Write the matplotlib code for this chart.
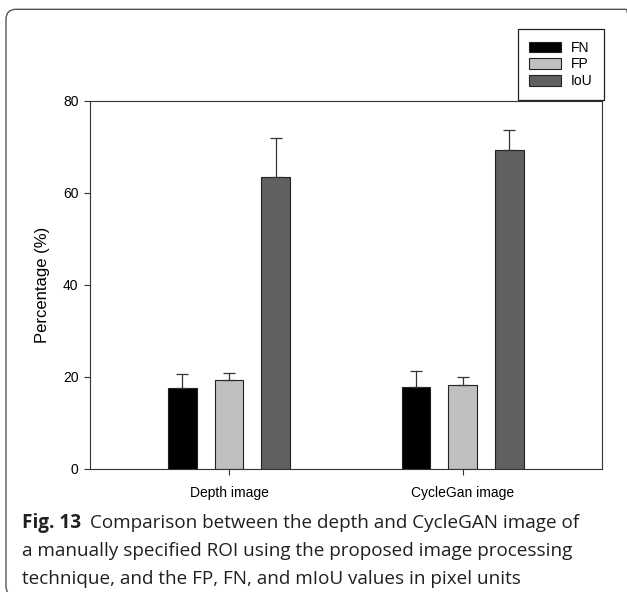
import numpy as np
import matplotlib
matplotlib.use('Agg')
import matplotlib.pyplot as plt
from matplotlib.patches import FancyBboxPatch, Patch
from matplotlib.transforms import IdentityTransform

plt.rcParams['font.family'] = ['Liberation Sans', 'DejaVu Sans']

groups = ['Depth image', 'CycleGan image']
series = ['FN', 'FP', 'IoU']
fn = [17.6, 17.8]
fn_err = [3.0, 3.5]
fp = [19.3, 18.3]
fp_err = [1.4, 1.6]
iou = [63.5, 69.2]
iou_err = [8.5, 4.4]
colors = ['#000000', '#c0c0c0', '#606060']

caption_bold = 'Fig. 13'
caption_lines = ['Comparison between the depth and CycleGAN image of',
                 'a manually specified ROI using the proposed image processing',
                 'technique, and the FP, FN, and mIoU values in pixel units']

fig = plt.figure(figsize=(6.27, 5.92), dpi=100)
ax = fig.add_axes([90/627, 123.3/592, 512/627, 368/592])

x = np.arange(1, len(groups) + 1)
width = 0.122
offset = 0.2
values = [fn, fp, iou]
errors = [fn_err, fp_err, iou_err]
for i, (v, e) in enumerate(zip(values, errors)):
    ax.bar(x + (i - 1) * offset, v, width, color=colors[i], edgecolor='#222222',
           linewidth=0.8, yerr=[np.zeros(len(e)), e], capsize=4.3,
           error_kw=dict(ecolor='#333333', elinewidth=0.9, capthick=0.9))

ax.set_xlim(0.405, 2.597)
ax.set_ylim(0, 80)
ax.set_yticks([0, 20, 40, 60, 80])
ax.set_xticks(x)
ax.set_xticklabels(groups)
ax.tick_params(axis='both', direction='out', length=4.3, width=0.8,
               color='#333333', labelsize=10, pad=4)
ax.tick_params(axis='x', pad=8)
ax.set_ylabel('Percentage (%)', fontsize=12, labelpad=9)
for s in ax.spines.values():
    s.set_linewidth(0.8)
    s.set_color('#333333')

handles = [Patch(facecolor=c, edgecolor='#222222', linewidth=0.8) for c in colors]
leg = fig.legend(handles, series, loc='lower right',
                 bbox_to_anchor=(604/627, 492/592), bbox_transform=fig.transFigure,
                 fontsize=10, frameon=True, fancybox=False, framealpha=1,
                 edgecolor='#222222', handlelength=2.3, handleheight=0.78,
                 handletextpad=0.65, labelspacing=0.2, borderpad=0.85,
                 borderaxespad=0)
leg.get_frame().set_linewidth(0.9)

# outer rounded frame
frame = FancyBboxPatch((6, -4), 630, 592 - 9.3 + 4,
                       boxstyle='round,pad=0,rounding_size=10',
                       transform=IdentityTransform(), facecolor='none',
                       edgecolor='#555555', linewidth=1.0)
fig.patches.append(frame)

# caption
cap_font = ['Open Sans', 'DejaVu Sans']
cap_size = 13.6
y0 = 1 - 527.7/592
step = 28/592
t = fig.text(22/627, y0, caption_bold, fontsize=cap_size, fontweight='bold',
             family=cap_font, color='#231f20', va='baseline')
fig.canvas.draw()
bb = t.get_window_extent()
fig.text((bb.x1 + 9)/627, y0, caption_lines[0], fontsize=cap_size,
         family=cap_font, color='#231f20', va='baseline')
for k, line in enumerate(caption_lines[1:], start=1):
    fig.text(22/627, y0 - k*step, line, fontsize=cap_size, family=cap_font,
             color='#231f20', va='baseline')

fig.savefig('out.png', dpi=100)
